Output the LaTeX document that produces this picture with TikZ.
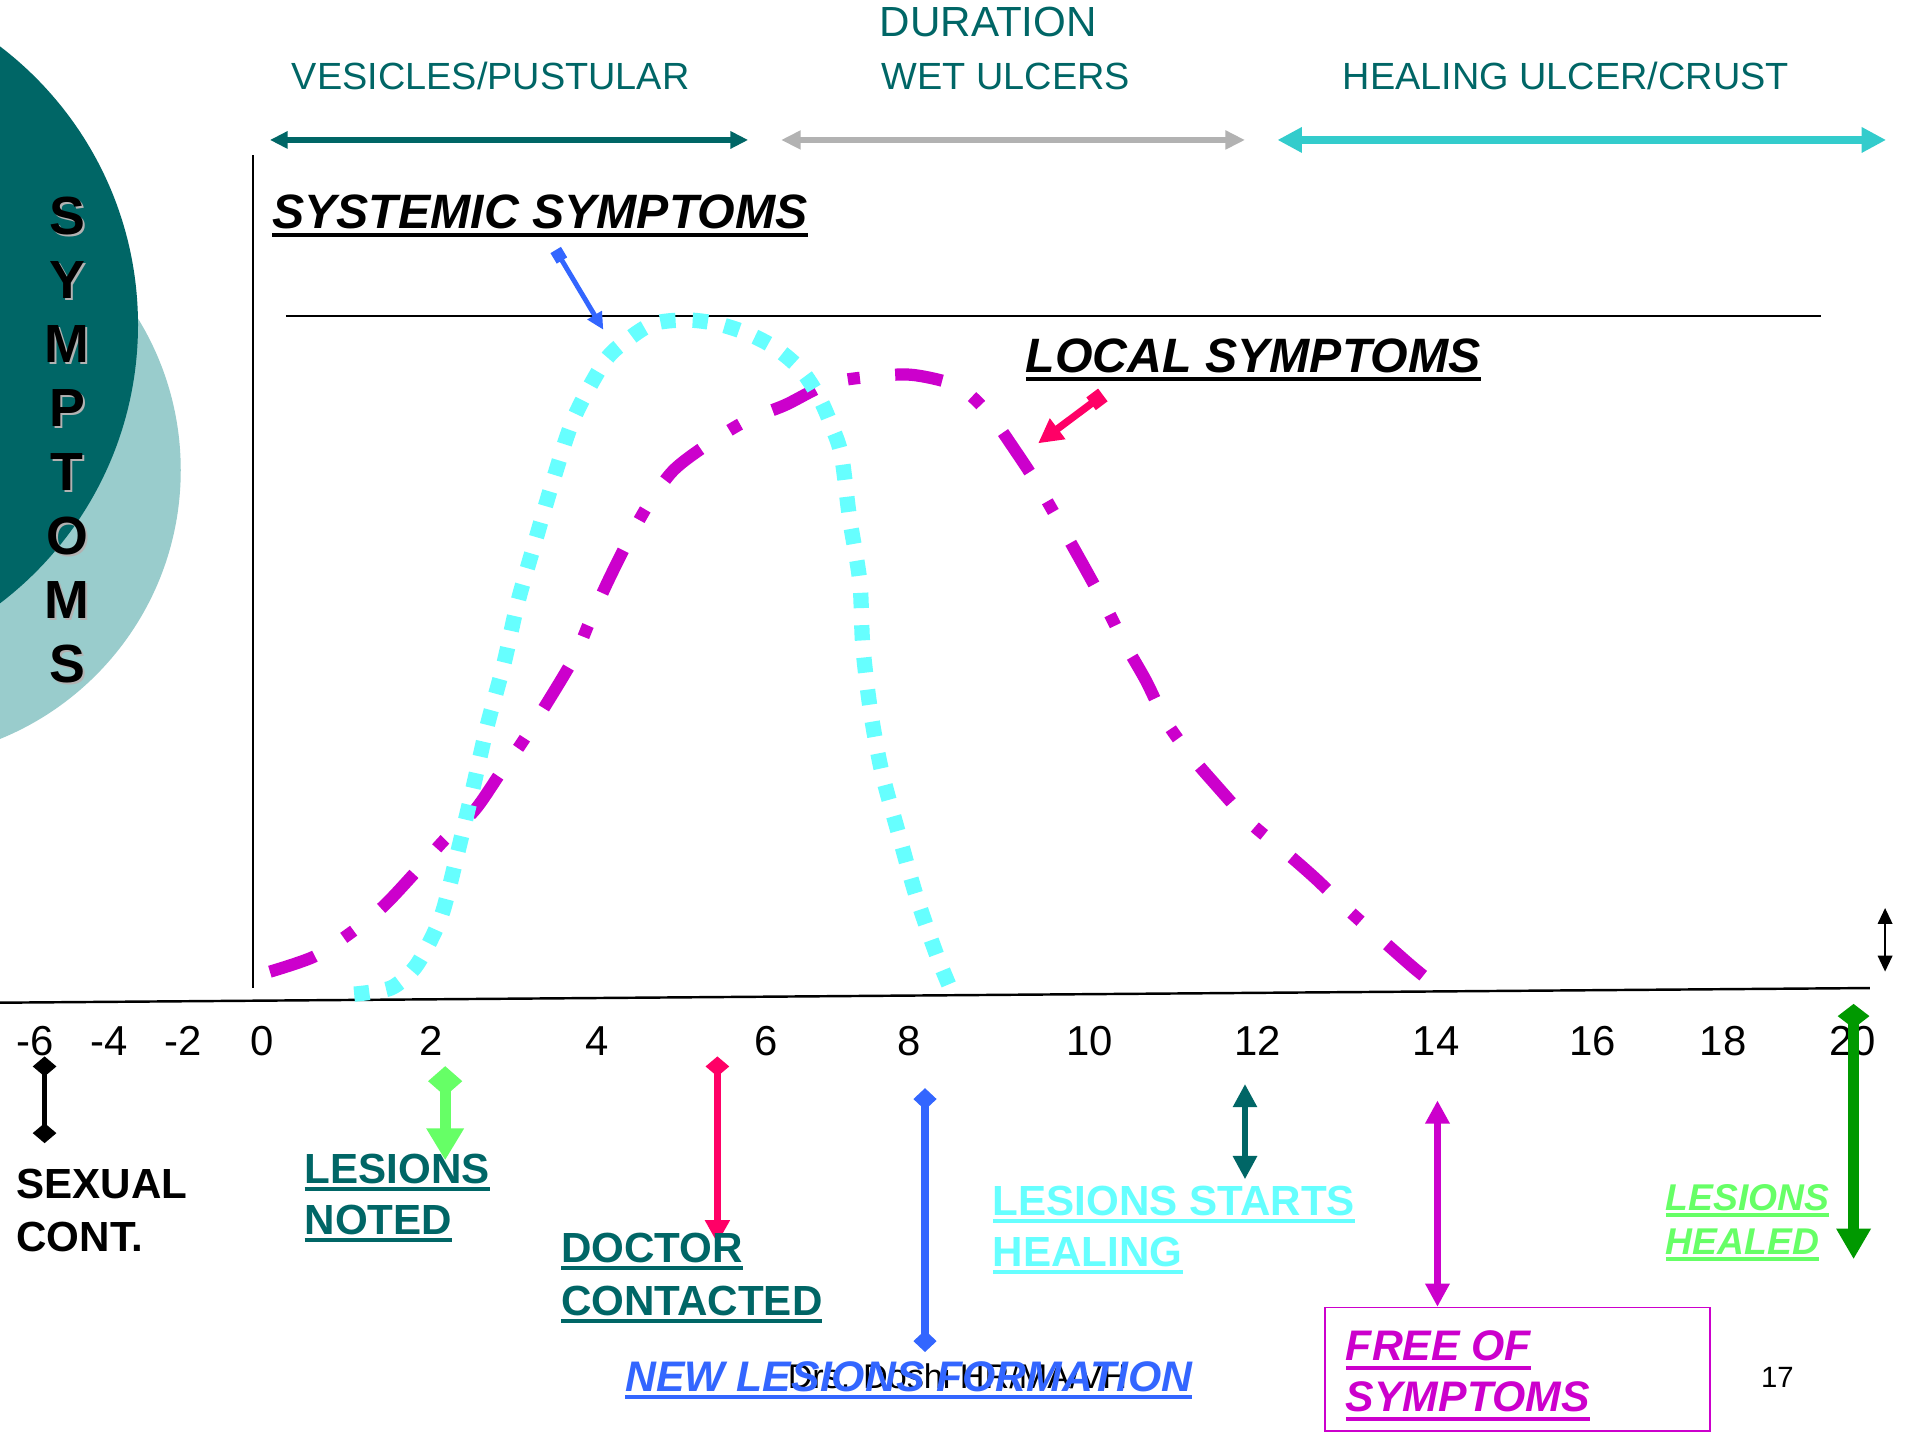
\documentclass[tikz,border=0pt]{standalone}
\usepackage{fontspec}
\setmainfont{Liberation Sans}
\usetikzlibrary{arrows.meta}
\definecolor{tealc}{HTML}{006666}
\definecolor{lteal}{HTML}{99CCCC}
\definecolor{grayarr}{HTML}{B2B2B2}
\definecolor{turq}{HTML}{33CCCC}
\definecolor{cyanc}{HTML}{66FFFF}
\definecolor{magc}{HTML}{CC00CC}
\definecolor{bluec}{HTML}{3366FF}
\definecolor{redc}{HTML}{FF0066}
\definecolor{lgreen}{HTML}{66FF66}
\definecolor{dgreen}{HTML}{009900}
\definecolor{shadowc}{HTML}{B2B2B2}
\newcommand\myul[4]{\draw[#3, line width=#4] ([yshift=-#2]#1.base west) -- ([yshift=-#2]#1.base east);}
\begin{document}
\begin{tikzpicture}[x=1pt,y=-1pt,
  every node/.style={inner sep=0pt, outer sep=0pt},
  toplbl/.style={anchor=base west, text=tealc, font=\fontsize{31}{36}\selectfont},
  ticklbl/.style={anchor=base, font=\fontsize{34.3}{40}\selectfont},
  boldlbl/.style={anchor=base west, font=\bfseries\fontsize{34.5}{40}\selectfont},
  bilbl/.style={anchor=base west, font=\bfseries\itshape\fontsize{#1}{40}\selectfont},
  symlet/.style={anchor=base, font=\bfseries\fontsize{44}{50}\selectfont}
]
\useasboundingbox (0,0) rectangle (1568,1172.5);
\fill[white] (0,0) rectangle (1568,1172.5);
% background circles
\begin{scope}
\clip (0,0) rectangle (1568,1172.5);
\fill[lteal] (-89.5,385) circle[radius=237.5pt];
\fill[tealc] (-173.5,266) circle[radius=286.5pt];
\end{scope}
% vertical SYMPTOMS
\foreach \l [count=\i from 0] in {S,Y,M,P,T,O,M,S} {
  \node[symlet, text=shadowc] (symsh\i) at (56.5, 193.5+52.4*\i) {\l};
  \node[symlet, text=black] (sym\i) at (55, 192+52.4*\i) {\l};
}
% top labels
\node[toplbl] (vesic) at (239,73.2) {VESICLES/PUSTULAR};
\node[toplbl, font=\fontsize{34.5}{40}\selectfont] (durat) at (720.5,30) {DURATION};
\node[toplbl] (wetulc) at (722,73.2) {WET ULCERS};
\node[toplbl] (healulc) at (1099.5,73.2) {HEALING ULCER/CRUST};
% top duration arrows
\coordinate (va) at (221,114.6); \coordinate (vb) at (612.6,114.6);
\coordinate (wa) at (639.6,114.6); \coordinate (wb) at (1019.4,114.6);
\coordinate (ha) at (1046,114.6); \coordinate (hb) at (1544.3,114.6);
\draw[tealc, line width=5.5pt, {Triangle[length=14.6pt,width=13.6pt]}-{Triangle[length=14.6pt,width=13.6pt]}] (va) -- (vb);
\draw[grayarr, line width=5.5pt, {Triangle[length=16pt,width=14.7pt]}-{Triangle[length=16pt,width=14.7pt]}] (wa) -- (wb);
\draw[turq, line width=6.5pt, {Triangle[length=20pt,width=19.7pt]}-{Triangle[length=20pt,width=19.7pt]}] (ha) -- (hb);
% axes
\coordinate (yaxtop) at (207.3,127); \coordinate (yaxbot) at (207.3,809);
\draw[line width=1.5pt] (yaxtop) -- (yaxbot);
\coordinate (xaxl) at (0,821); \coordinate (xaxr) at (1531,809);
\draw[line width=2pt] (xaxl) -- (xaxr);
\coordinate (topl) at (234,258.7); \coordinate (topr) at (1491,258.7);
\draw[line width=2.2pt] (topl) -- (topr);
% local symptoms curve
\draw[magc, line width=10pt, dash pattern=on 39pt off 28pt on 10pt off 29pt]
 plot[smooth, tension=0.5] coordinates {(221,795.6) (257,783.3) (286.6,764.2) (313.6,742.4) (340.6,713.7) (363.8,687.8) (389,663) (409.7,633) (430.7,603) (468.2,541.8) (482.8,509) (497,477.6) (513.9,443.5) (530.6,413.5) (551.5,385) (580.6,363) (612,344) (643,331.6) (678.8,313.9) (713.5,308.4) (747.6,307) (785,316.6) (810.4,339.8) (831,368.5) (852,401) (886,461) (904.8,495.4) (920,525.4) (938,556.8) (955,591) (975,618.8) (995.6,642.8) (1024,674) (1050.5,696) (1076.8,719) (1105.4,746.5) (1130,768.3) (1158,792.9) (1177,808)};
% systemic symptoms curve
\draw[cyanc, line width=12.5pt, dash pattern=on 12.5pt off 14pt]
 plot[smooth, tension=0.5] coordinates {(290,814) (320,809) (339,793) (352,771) (363,745) (375.5,695) (387.6,644) (399,594) (412.7,543) (424,493) (438.6,442) (453.3,392) (470,342) (495,296) (514,278) (535,265) (562,262) (587,265) (612,273) (635,285) (656,303) (671,326) (681,349) (689,373) (695.6,424) (704,476) (706.4,528) (712.6,581) (722,632) (735.6,682) (750,733) (767,782) (781,816)};
% titles
\node[bilbl=39.5] (syst) at (223,187) {SYSTEMIC SYMPTOMS};
\myul{syst}{5.5pt}{black}{3.5pt}
\node[bilbl=39.5] (local) at (840,305) {LOCAL SYMPTOMS};
\myul{local}{5.5pt}{black}{3.5pt}
% pointer arrows
\coordinate (bpa) at (455,204.7); \coordinate (bpb) at (494,270);
\draw[bluec, line width=4pt, {Square[length=10pt,width=10pt]}-{Triangle[length=14pt,width=13pt]}] (bpa) -- (bpb);
\coordinate (rpa) at (903,323.4); \coordinate (rpb) at (850,363);
\draw[redc, line width=6pt, {Square[length=12pt,width=13pt]}-{Triangle[length=20pt,width=20pt]}] (rpa) -- (rpb);
% small black double arrow at right
\coordinate (sba) at (1543.5,743.5); \coordinate (sbb) at (1543.5,795.5);
\draw[line width=1.3pt, {Triangle[length=13pt,width=12pt]}-{Triangle[length=13pt,width=12pt]}] (sba) -- (sbb);
% tick labels
\foreach \v/\xx [count=\i] in {-6/29,-4/89,-2/150,0/215,2/353,4/489,6/627,8/744,10/892,12/1029.6,14/1176,16/1304,18/1411,20/1517} {
  \node[ticklbl] (tick\i) at (\xx,864) {\v};
}
% event arrows
\coordinate (ea1) at (36.5,865); \coordinate (eb1) at (36.5,936);
\draw[line width=4.4pt, {Diamond[length=16.4pt,width=19.4pt]}-{Diamond[length=16.4pt,width=19.4pt]}] (ea1) -- (eb1);
\coordinate (ea2) at (364.5,873); \coordinate (eb2) at (364.5,950);
\draw[lgreen, line width=9pt, {Diamond[length=24.5pt,width=28pt]}-{Triangle[length=26pt,width=29pt]}] (ea2) -- (eb2);
\coordinate (ea3) at (587.4,865); \coordinate (eb3) at (587.4,1018);
\draw[redc, line width=6pt, {Diamond[length=16.4pt,width=19.4pt]}-{Triangle[length=19pt,width=19.4pt]}] (ea3) -- (eb3);
\coordinate (ea4) at (757.4,891); \coordinate (eb4) at (757.4,1107);
\draw[bluec, line width=6.6pt, {Diamond[length=17.8pt,width=19pt]}-{Diamond[length=17.8pt,width=19pt]}] (ea4) -- (eb4);
\coordinate (ea5) at (1019.4,887.6); \coordinate (eb5) at (1019.4,965.5);
\draw[tealc, line width=4.4pt, {Triangle[length=19pt,width=19pt]}-{Triangle[length=19pt,width=19pt]}] (ea5) -- (eb5);
\coordinate (ea6) at (1177,901); \coordinate (eb6) at (1177,1070);
\draw[magc, line width=5.9pt, {Triangle[length=19pt,width=19pt]}-{Triangle[length=19pt,width=19pt]}] (ea6) -- (eb6);
\coordinate (ea7) at (1517.7,822); \coordinate (eb7) at (1517.7,1031);
\draw[dgreen, line width=9pt, {Diamond[length=20pt,width=26pt]}-{Triangle[length=25pt,width=26.7pt]}] (ea7) -- (eb7);
% event labels
\node[boldlbl] (sex1) at (13.5,981) {SEXUAL};
\node[boldlbl] (sex2) at (13.5,1025) {CONT.};
\node[boldlbl, text=tealc] (ln1) at (249.5,969) {LESIONS};
\node[boldlbl, text=tealc] (ln2) at (249.5,1011) {NOTED};
\myul{ln1}{4.6pt}{tealc}{3.3pt}
\myul{ln2}{4.6pt}{tealc}{3.3pt}
\node[boldlbl, text=tealc] (dc1) at (459.4,1034) {DOCTOR};
\node[boldlbl, text=tealc] (dc2) at (459.4,1077) {CONTACTED};
\myul{dc1}{4.6pt}{tealc}{3.3pt}
\myul{dc2}{4.6pt}{tealc}{3.3pt}
\node[boldlbl, text=cyanc] (ls1) at (813,995) {LESIONS STARTS};
\node[boldlbl, text=cyanc] (ls2) at (813,1037) {HEALING};
\myul{ls1}{4.6pt}{cyanc}{3.3pt}
\myul{ls2}{4.6pt}{cyanc}{3.3pt}
\node[bilbl=30.5, text=lgreen] (lh1) at (1364,991) {LESIONS};
\node[bilbl=30.5, text=lgreen] (lh2) at (1364,1026.8) {HEALED};
\myul{lh1}{4pt}{lgreen}{3pt}
\myul{lh2}{4pt}{lgreen}{3pt}
\node[draw=magc, line width=1.5pt, minimum width=315pt, minimum height=101pt] (freebox) at (1242.5,1121) {};
\node[bilbl=35, text=magc] (fs1) at (1102,1114) {FREE OF};
\node[bilbl=35, text=magc] (fs2) at (1102,1156) {SYMPTOMS};
\myul{fs1}{6pt}{magc}{3.5pt}
\myul{fs2}{6pt}{magc}{3.5pt}
% footer (partly covered by the blue label, as in the reference)
\node[anchor=base west, font=\fontsize{28}{32}\selectfont] (footer) at (645,1137) {Drs. Doshi HR/MA/VH};
\node[anchor=base west, font=\fontsize{24}{28}\selectfont] (pagenum) at (1442,1135.8) {17};
\node[bilbl=35, text=bluec] (nlf) at (512,1139.5) {NEW LESIONS FORMATION};
\myul{nlf}{4.1pt}{bluec}{3.5pt}
\end{tikzpicture}
\end{document}
